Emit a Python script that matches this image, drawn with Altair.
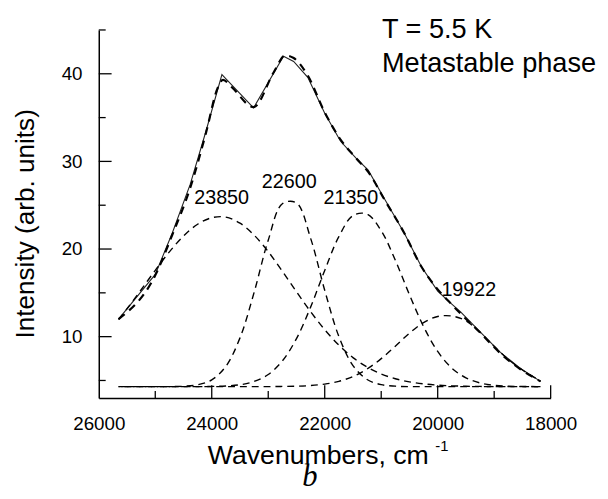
import altair as alt
import pandas as pd

# ---------------- data ----------------
spec_wn = [25650, 25000, 24700, 24380, 24100, 23820, 23260, 22730, 22550, 22300,
           22000, 21720, 21450, 21230, 20930, 20590, 20290, 20000, 19800, 19590,
           19240, 18890, 18540, 18180]
spec_int = [12.0, 17.1, 21.8, 27.4, 33.5, 39.9, 36.1, 42.0, 41.4, 39.6,
            35.5, 32.3, 30.4, 29.0, 25.6, 21.8, 18.0, 15.2, 14.0, 12.8,
            10.5, 8.2, 6.4, 4.9]

fit_wn = [25650, 25000, 24700, 24380, 24100, 23900, 23800, 23650, 23260, 22900,
          22700, 22550, 22300, 22000, 21720, 21450, 21230, 20930, 20590, 20290,
          20000, 19800, 19590, 19240, 18890, 18540, 18180]
fit_int = [12.0, 17.0, 21.6, 27.0, 33.3, 38.3, 39.3, 38.5, 36.2, 40.2,
           42.1, 41.8, 39.8, 35.6, 32.5, 30.4, 28.8, 25.5, 21.8, 18.0,
           15.4, 14.0, 12.6, 10.4, 8.1, 6.3, 4.9]

grid_wn = [25650, 25500, 25250, 25000, 24750, 24500, 24250, 24000, 23750, 23500,
           23250, 23000, 22750, 22500, 22250, 22000, 21750, 21500, 21250, 21000,
           20750, 20500, 20250, 20000, 19750, 19500, 19250, 19000, 18750, 18500,
           18250, 18180]

comp_23850 = [11.96, 13.18, 15.35, 17.57, 19.68, 21.48, 22.83, 23.57, 23.64, 22.95,
              21.59, 19.70, 17.47, 15.13, 12.85, 10.79, 9.03, 7.61, 6.53, 5.74,
              5.20, 4.84, 4.61, 4.47, 4.39, 4.34, 4.32, 4.30, 4.30, 4.30,
              4.30, 4.30]
comp_22600 = [4.30, 4.30, 4.30, 4.30, 4.30, 4.34, 4.51, 5.07, 6.61, 9.86,
              15.05, 21.01, 25.17, 25.26, 21.23, 15.29, 10.03, 6.70, 5.11, 4.52,
              4.35, 4.30, 4.30, 4.30, 4.30, 4.30, 4.30, 4.30, 4.30, 4.30,
              4.30, 4.30]
comp_21350 = [4.30, 4.30, 4.30, 4.30, 4.30, 4.30, 4.30, 4.32, 4.37, 4.51,
              4.88, 5.68, 7.23, 9.78, 13.37, 17.56, 21.41, 23.82, 23.99, 22.09,
              18.72, 14.79, 11.15, 8.31, 6.41, 5.30, 4.72, 4.46, 4.35, 4.32,
              4.30, 4.30]
comp_19922 = [4.30, 4.30, 4.30, 4.30, 4.30, 4.30, 4.30, 4.30, 4.30, 4.30,
              4.30, 4.30, 4.32, 4.35, 4.42, 4.59, 4.90, 5.45, 6.31, 7.49,
              8.91, 10.39, 11.61, 12.30, 12.35, 11.80, 10.50, 8.90, 7.40, 6.20,
              5.20, 4.90]

peak_labels = ["23850", "22600", "21350", "19922"]
label_wn = [23825, 22628, 21537, 19449]
label_int = [25.1, 27.0, 25.1, 14.6]

y_major = [10, 20, 30, 40]
y_minor = [5, 15, 25, 35, 45]
x_major = [24000, 22000, 20000, 18000]
x_minor = [25000, 23000, 21000, 19000]
x_labels = [26000, 24000, 22000, 20000, 18000]

FONT = "Liberation Sans"
W, H = 458, 373

xscale = alt.Scale(domain=[18000, 26000], reverse=True, nice=False, zero=False)
yscale = alt.Scale(domain=[3, 45], nice=False, zero=False)

xaxis = alt.Axis(values=x_labels, format="d", ticks=False, tickSize=0, grid=False,
                 labelFont=FONT, labelFontSize=19, labelColor="black", labelPadding=17,
                 domainColor="black", domainWidth=1.5, labelFlush=False, labelOverlap=False,
                 title="Wavenumbers, cm", titleFont=FONT, titleFontSize=27,
                 titleFontWeight="normal", titleColor="black",
                 titleBaseline="alphabetic", titleAlign="center", titleX=222, titleY=66)
yaxis = alt.Axis(values=y_major, ticks=False, tickSize=0, grid=False,
                 labelFont=FONT, labelFontSize=19, labelColor="black", labelPadding=17,
                 domainColor="black", domainWidth=1.5, labelFlush=False, labelOverlap=False,
                 title="Intensity (arb. units)", titleFont=FONT, titleFontSize=26.5,
                 titleFontWeight="normal", titleColor="black",
                 titleBaseline="alphabetic", titleAlign="center", titleAngle=270,
                 titleX=-66, titleY=196)

X = alt.X("wn:Q", scale=xscale, axis=xaxis)
Y = alt.Y("val:Q", scale=yscale, axis=yaxis)

spec_df = pd.DataFrame({"wn": spec_wn, "val": spec_int})
fit_df = pd.DataFrame({"wn": fit_wn, "val": fit_int})

spectrum = alt.Chart(spec_df).mark_line(color="#222222", strokeWidth=1.1).encode(x=X, y=Y)
fit = alt.Chart(fit_df).mark_line(color="black", strokeWidth=2.2, strokeDash=[8, 6],
                                  interpolate="monotone").encode(x=X, y=Y)

comp_layers = []
for i, comp in enumerate([comp_23850, comp_22600, comp_21350, comp_19922]):
    df = pd.DataFrame({"wn": grid_wn, "val": comp})
    comp_layers.append(
        alt.Chart(df).mark_line(color="black", strokeWidth=1.4, strokeDash=[7, 5],
                                strokeDashOffset=i * 3, interpolate="catmull-rom").encode(
            x=X, y=Y))

lab_df = pd.DataFrame({"wn": label_wn, "val": label_int, "txt": peak_labels})
labels = alt.Chart(lab_df).mark_text(font=FONT, fontSize=20, align="center",
                                     baseline="alphabetic", color="black").encode(
    x=X, y=Y, text="txt:N")

def yticks(vals, length):
    return alt.Chart(pd.DataFrame({"val": vals})).mark_rule(color="black", strokeWidth=1.3).encode(
        y=Y, x=alt.value(0), x2=alt.value(length))

def xticks(vals, length):
    return alt.Chart(pd.DataFrame({"wn": vals})).mark_rule(color="black", strokeWidth=1.3).encode(
        x=X, y=alt.value(H), y2=alt.value(H - length))

ann_df = pd.DataFrame({"t": ["T = 5.5 K", "Metastable phase"], "yy": [8, 43]})
annot = alt.Chart(ann_df).mark_text(font=FONT, fontSize=27.5, align="left",
                                    baseline="alphabetic", color="black").encode(
    x=alt.value(287), y=alt.Y("yy:Q", scale=None, axis=None), text="t:N")

sup = alt.Chart(pd.DataFrame({"t": ["-1"]})).mark_text(
    font=FONT, fontSize=15, align="left", baseline="alphabetic", color="black").encode(
    x=alt.value(341), y=alt.value(427), text="t:N")

blabel = alt.Chart(pd.DataFrame({"t": ["b"]})).mark_text(
    font="Liberation Serif", fontStyle="italic", fontSize=31, align="center",
    baseline="alphabetic", color="black").encode(
    x=alt.value(214), y=alt.value(462), text="t:N")

chart = alt.layer(
    spectrum, fit, *comp_layers, labels,
    yticks(y_major, 13), yticks(y_minor, 7), xticks(x_major, 13), xticks(x_minor, 7),
    annot, sup, blabel
).properties(
    width=W, height=H,
    autosize=alt.AutoSizeParams(type="none"),
    padding={"left": 92, "top": 19, "right": 50, "bottom": 91},
).configure_view(stroke=None)

chart.save("out.html", embed_options={"renderer": "svg", "actions": False})
